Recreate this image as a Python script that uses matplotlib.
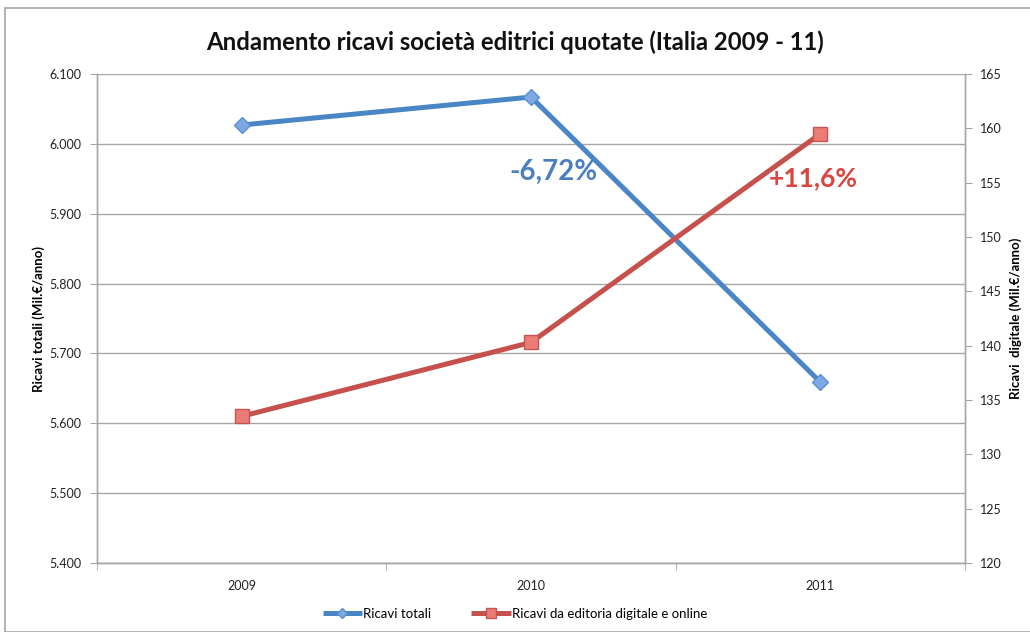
import matplotlib
matplotlib.use("Agg")
import matplotlib.pyplot as plt
from matplotlib.patches import Rectangle
from matplotlib.ticker import FuncFormatter

years = ["2009", "2010", "2011"]
ricavi_totali = [6027, 6067, 5659]
ricavi_digitale = [133.5, 140.3, 159.5]
left_ticks = [5400, 5500, 5600, 5700, 5800, 5900, 6000, 6100]
right_ticks = [120, 125, 130, 135, 140, 145, 150, 155, 160, 165]

plt.rcParams['font.family'] = ['Lato', 'DejaVu Sans']

fig = plt.figure(figsize=(10.30, 6.32), dpi=100)
fig.patches.append(Rectangle((5/1030, 0), 1.1, 1 - 8/632, transform=fig.transFigure,
                             fill=False, edgecolor='#a6a6a6', linewidth=1.2))

ax = fig.add_axes([97/1030, 1 - 563/632, 868/1030, (563 - 74)/632])
ax2 = ax.twinx()

x = list(range(len(years)))
blue_line = '#4a86c5'
red_line = '#c5504c'

ax.plot(x, ricavi_totali, color=blue_line, linewidth=3.6, marker='D', markersize=8,
        markerfacecolor='#7ea8e3', markeredgecolor='#5a8fd0', markeredgewidth=1,
        zorder=3, label='Ricavi totali', solid_capstyle='butt')
ax2.plot(x, ricavi_digitale, color=red_line, linewidth=3.6, marker='s', markersize=10,
         markerfacecolor='#ea7c78', markeredgecolor='#c9544f', markeredgewidth=1,
         zorder=3, label='Ricavi da editoria digitale e online', solid_capstyle='butt')

ax.set_xlim(-0.5, 2.5)
ax.set_ylim(5400, 6100)
ax2.set_ylim(120, 165)
ax.set_yticks(left_ticks)
ax2.set_yticks(right_ticks)
ax.yaxis.set_major_formatter(FuncFormatter(lambda v, p: f"{v/1000:.3f}"))
ax.set_xticks(x)
ax.set_xticklabels(years)
ax.set_xticks([-0.5, 0.5, 1.5, 2.5], minor=True)

grid_c = '#a6a6a6'
ax.grid(axis='y', color=grid_c, linewidth=1)
ax.set_axisbelow(True)
for a in (ax, ax2):
    for s in a.spines.values():
        s.set_color(grid_c)
        s.set_linewidth(1)
    a.spines['top'].set_visible(False)
ax.tick_params(axis='x', which='major', length=0, pad=12, labelsize=9, colors='#222222')
ax.tick_params(axis='x', which='minor', length=5, color=grid_c, direction='out')
ax.tick_params(axis='y', length=5, color=grid_c, labelsize=9, labelcolor='#222222', pad=6)
ax2.tick_params(axis='y', length=5, color=grid_c, labelsize=9, labelcolor='#222222', pad=6)

ax.set_ylabel('Ricavi totali (Mil.€/anno)', fontsize=9.5, fontweight='bold', labelpad=3)
ax2.set_ylabel('Ricavi  digitale (Mil.€/anno)', fontsize=9.5, fontweight='bold', labelpad=5)

fig.text(0.5, 1 - 42/632, 'Andamento ricavi società editrici quotate (Italia 2009 - 11)',
         ha='center', va='center', fontsize=17.2, fontweight='bold', color='#111111')

ax.text(553/1030, 1 - 172/632, '-6,72%', transform=fig.transFigure, ha='center', va='center',
        fontsize=20, fontweight='bold', color='#4a7fc4')
ax.text(813/1030, 1 - 178/632, '+11,6%', transform=fig.transFigure, ha='center', va='center',
        fontsize=19, fontweight='bold', color='#d8463f')

h1, l1 = ax.get_legend_handles_labels()
h2, l2 = ax2.get_legend_handles_labels()
fig.legend(h1 + h2, l1 + l2, loc='center', bbox_to_anchor=(0.5, 1 - 614/632), ncol=2,
           frameon=False, fontsize=9.5, handlelength=3, columnspacing=3, handletextpad=0.1,
           markerscale=0.7)

fig.savefig('out.png', dpi=100)
